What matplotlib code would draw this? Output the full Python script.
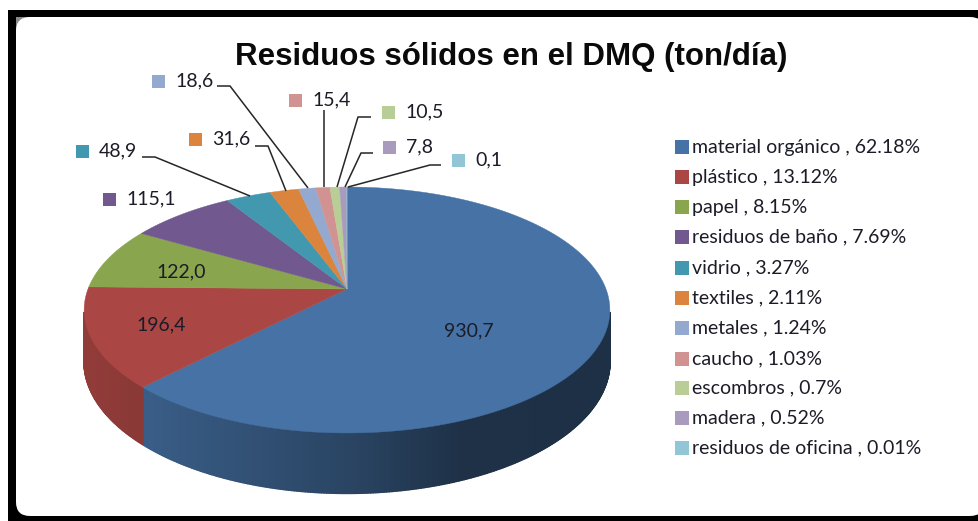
import numpy as np
import matplotlib
matplotlib.use("Agg")
import matplotlib.pyplot as plt
from matplotlib.patches import Rectangle, FancyBboxPatch
from matplotlib.collections import PolyCollection

# ---- data ----
categories = ["material orgánico", "plástico", "papel", "residuos de baño", "vidrio",
              "textiles", "metales", "caucho", "escombros", "madera", "residuos de oficina"]
values = [930.7, 196.4, 122.0, 115.1, 48.9, 31.6, 18.6, 15.4, 10.5, 7.8, 0.1]
value_labels = ["930,7", "196,4", "122,0", "115,1", "48,9", "31,6", "18,6", "15,4", "10,5", "7,8", "0,1"]
percent_labels = ["62.18%", "13.12%", "8.15%", "7.69%", "3.27%", "2.11%", "1.24%", "1.03%", "0.7%", "0.52%", "0.01%"]
title = "Residuos sólidos en el DMQ (ton/día)"

colors = ["#4672a5", "#aa4643", "#89a54e", "#71588f", "#4198af", "#db843d",
          "#93a9cf", "#d19392", "#b9cd96", "#a99bbd", "#92c5d6"]

BODY = ["Lato", "Open Sans", "DejaVu Sans"]
INK = "#1c1c28"
LABEL_SIZE = 14

fig = plt.figure(figsize=(9.79, 5.21), dpi=100, facecolor="white")
ax = fig.add_axes([0, 0, 1, 1])
ax.set_xlim(0, 979)
ax.set_ylim(521, 0)
ax.axis("off")

# frame
ax.add_patch(Rectangle((8, 10), 980, 520, fc="black", ec="none", zorder=0))
ax.add_patch(Rectangle((16, 17), 16, 16, fc="#8a8a8a", ec="none", zorder=0.5))
ax.add_patch(FancyBboxPatch((16, 17), 968, 499, boxstyle="round,pad=0,rounding_size=14",
                            fc="white", ec="none", zorder=1))

# perspective projection of the pie disk
CX, CY, A, B, K, DEPTH = 347.0, 289.0, 259.0, 119.4, 0.1707, 50.0


def project(theta_deg, r=1.0, drop=0.0):
    t = np.radians(theta_deg)
    u, v = r * np.sin(t), r * np.cos(t)
    w = 1 + K * v
    return CX + A * u / w, CY - B * v / w + drop * DEPTH / w


vals = np.asarray(values, dtype=float)
edges = np.concatenate([[0.0], np.cumsum(vals)]) / vals.sum() * 360.0


def shade(rgb, f):
    return tuple(c * f for c in rgb)


# side wall, shaded from left to right; only the front arc is visible
quads, fcs = [], []
for i, (a0, a1) in enumerate(zip(edges[:-1], edges[1:])):
    lo, hi = max(a0, 101.0), min(a1, 259.0)
    if hi <= lo:
        continue
    ts = np.linspace(lo, hi, int((hi - lo) * 2) + 1)
    base = matplotlib.colors.to_rgb(colors[i])
    for t0, t1 in zip(ts[:-1], ts[1:]):
        x0, y0 = project(t0)
        x1, y1 = project(t1)
        x2, y2 = project(t1, drop=1)
        x3, y3 = project(t0, drop=1)
        xm = (x0 + x1) / 2
        if i == 0:
            f = np.interp(xm, [145, 350, 460, 610], [0.82, 0.60, 0.43, 0.42])
        else:
            f = np.interp(xm, [85, 150], [0.86, 0.80])
        quads.append([(x0, y0), (x1, y1), (x2, y2), (x3, y3)])
        fcs.append(shade(base, f))
ax.add_collection(PolyCollection(quads, facecolors=fcs, edgecolors=fcs, linewidths=1.3, zorder=2))

# top surface
for i, (a0, a1) in enumerate(zip(edges[:-1], edges[1:])):
    ts = np.linspace(a0, a1, max(3, int((a1 - a0) * 2)))
    xs, ys = project(ts)
    ax.fill(np.r_[CX, xs], np.r_[CY, ys], fc=colors[i], ec=colors[i], lw=0.3, zorder=3)

# data labels inside the pie
inside = {0: (469, 331), 1: (161, 325), 2: (181, 272)}
for i, (x, y) in inside.items():
    ax.text(x, y, value_labels[i], ha="center", va="center", fontsize=LABEL_SIZE,
            family=BODY, color=INK, zorder=5)

# data labels outside the pie, with their colour key
outside = {3: (103, 199), 4: (76, 151), 5: (189, 139), 6: (152, 81),
           7: (289, 100), 8: (382, 112), 9: (383, 147), 10: (452, 160)}
for i, (x, y) in outside.items():
    ax.add_patch(Rectangle((x, y - 6.5), 13, 13, fc=colors[i], ec="none", zorder=5))
    ax.text(x + 23, y, value_labels[i], ha="left", va="center", fontsize=LABEL_SIZE,
            family=BODY, color=INK, zorder=5)

# leader lines
leaders = [
    [(142, 157), (155, 157), (250, 196)],
    [(255, 146), (268, 146), (286, 191)],
    [(217, 86), (230, 86), (308, 188)],
    [(324, 110), (324, 187)],
    [(371, 117), (358, 117), (337, 187)],
    [(373, 153), (361, 153), (345, 187)],
    [(441, 165), (430, 165), (348, 187)],
]
for pts in leaders:
    xs, ys = zip(*pts)
    ax.plot(xs, ys, color="#262626", lw=1.1, zorder=4, solid_capstyle="butt")

# legend
legend_y = [147, 177, 207, 237, 268, 298, 328, 359, 388, 418, 448]
for c, name, pct, y in zip(colors, categories, percent_labels, legend_y):
    ax.add_patch(Rectangle((675, y - 7), 14, 14, fc=c, ec="none", zorder=5))
    ax.text(692, y, f"{name} , {pct}", ha="left", va="center", fontsize=LABEL_SIZE,
            family=BODY, color=INK, zorder=5)

# title
ax.text(511.5, 57, title, ha="center", va="center", fontsize=22.5, fontweight="bold",
        family=["Liberation Sans", "DejaVu Sans"], color="#0a0a0a", zorder=5)

fig.savefig("out.png", dpi=100, facecolor="white")
